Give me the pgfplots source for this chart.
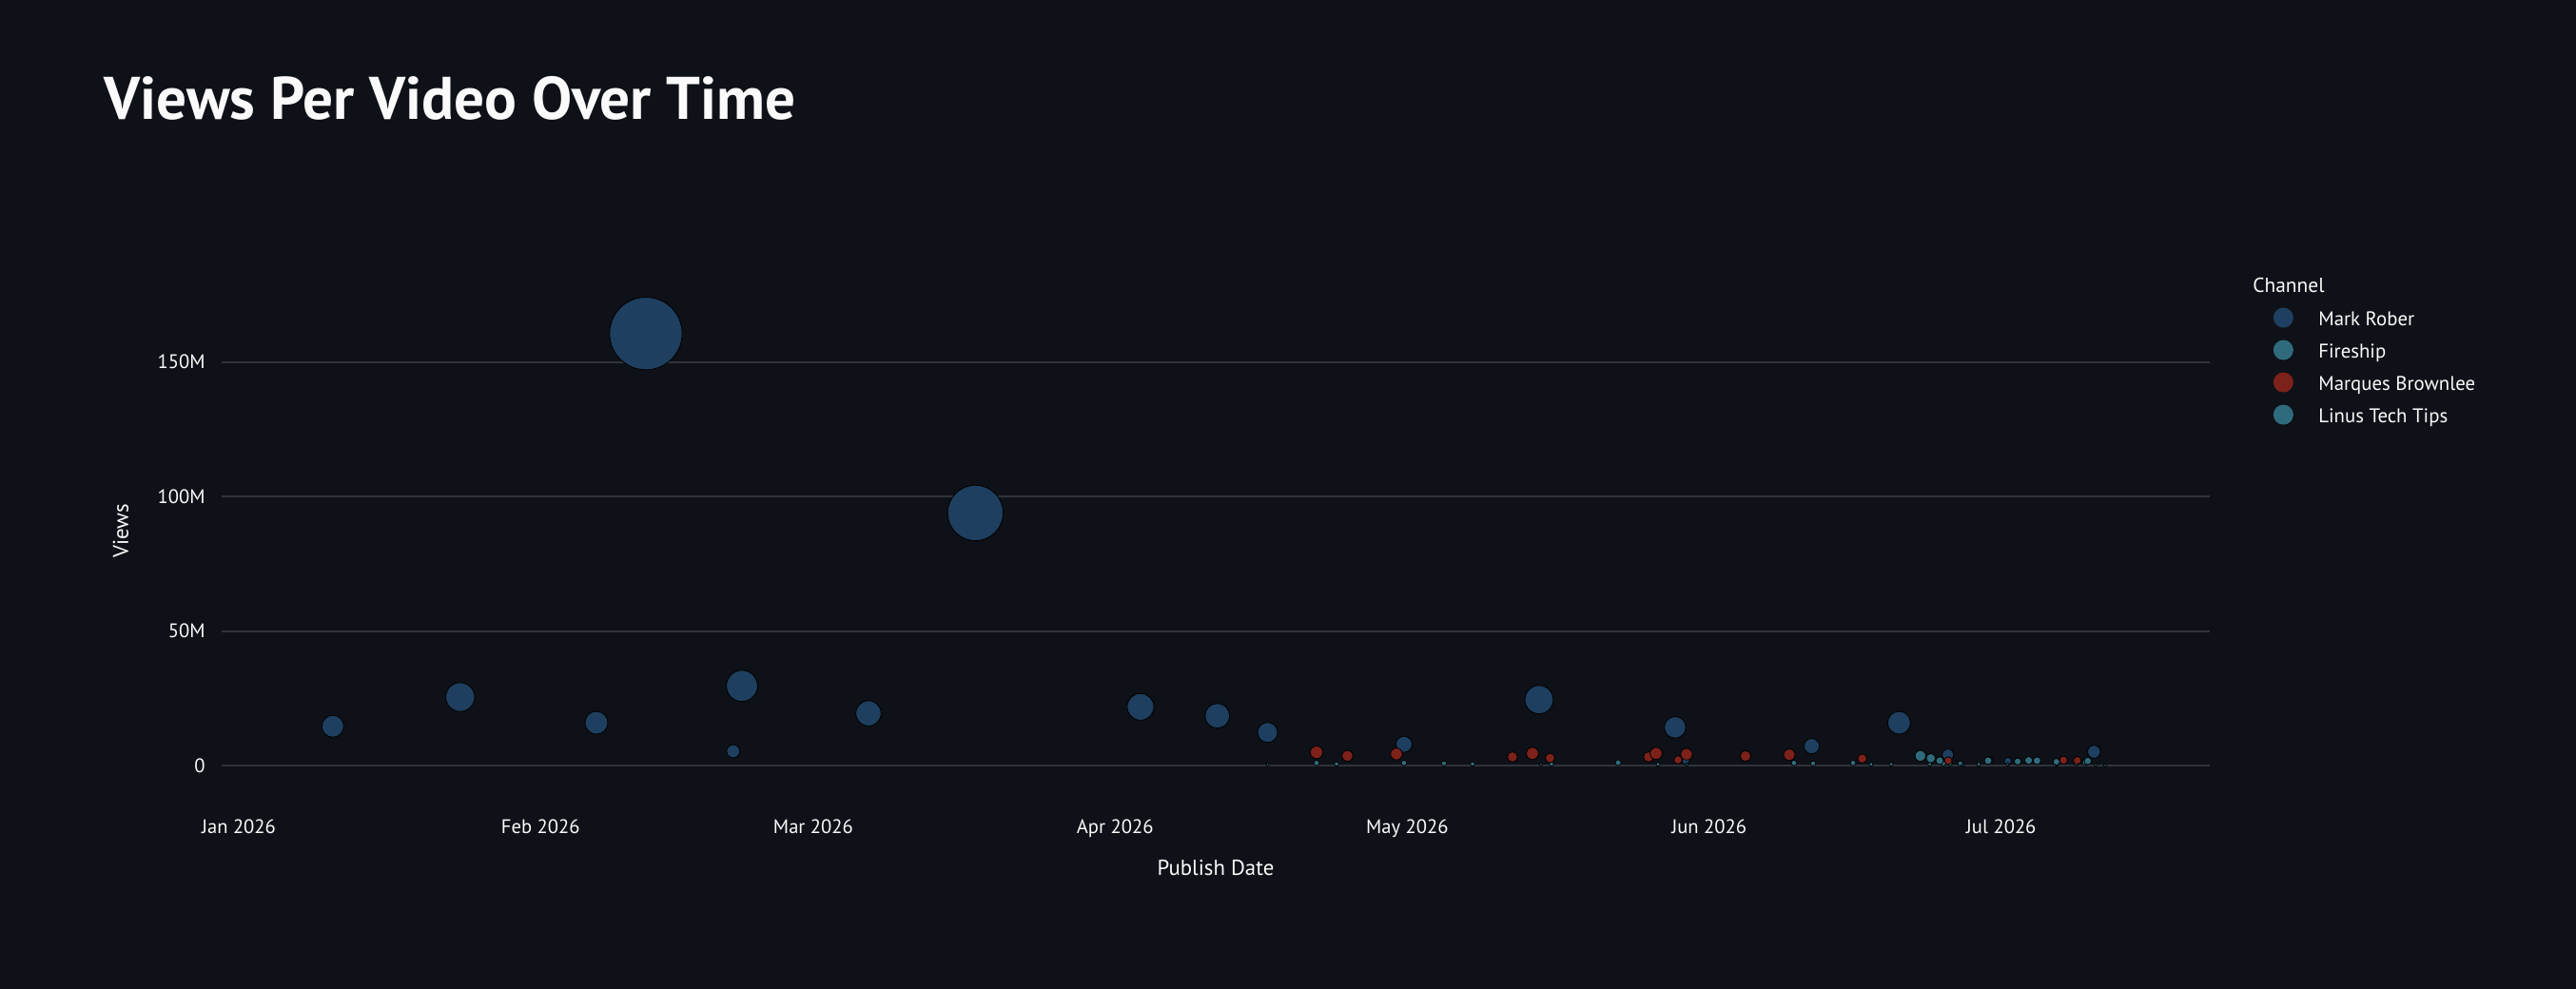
\documentclass[border=0pt]{standalone}
\usepackage{pgfplots}
\usepackage{pgfplotstable}
\pgfplotsset{compat=1.18}
\usepackage{fontspec}
\setmainfont{PT Sans}

\definecolor{bg}{HTML}{0E1117}
\definecolor{fg}{HTML}{FAFAFA}
\definecolor{gridc}{HTML}{31333B}
\definecolor{rober}{HTML}{1E3F5F}
\definecolor{fireship}{HTML}{2F6B7C}
\definecolor{mkbhd}{HTML}{7D211B}
\definecolor{linus}{HTML}{2F6B7C}

\newcommand{\fs}[1]{\fontsize{#1bp}{#1bp}\selectfont}

% day = days since 1 Jan 2026, views in millions
\pgfplotstableread{
day views
9.66 14.6
22.74 25.45
36.73 15.9
41.81 160.6
50.78 5.3
51.68 29.6
64.67 19.4
75.65 93.9
92.61 21.8
100.5 18.5
105.66 12.3
119.67 7.9
133.54 24.5
147.51 14.2
148.6 1.8
161.54 7.2
170.51 15.9
175.53 4.0
181.68 1.7
190.53 5.1
}\roberdata

\pgfplotstableread{
day views
105.66 0.35
110.69 0.95
112.74 0.6
119.67 0.95
123.78 0.8
126.71 0.6
133.73 0.35
134.81 0.6
141.66 1.05
145.76 0.45
148.69 0.35
159.73 0.95
161.69 0.8
165.79 0.95
167.64 0.45
169.7 0.45
173.67 0.45
175.07 0.8
175.72 0.8
176.8 0.8
177.09 0.25
178.69 0.45
181.68 0.35
186.7 0.45
188.71 0.95
190.7 0.35
191.68 0.1
}\fireshipdata

\pgfplotstableread{
day views
110.69 4.9
113.86 3.6
118.89 4.3
130.81 3.2
132.86 4.5
134.67 2.8
144.78 3.2
145.56 4.5
147.81 2.1
148.69 4.2
154.75 3.5
159.24 4.0
166.73 2.6
175.56 1.8
179.76 1.9
182.69 1.5
187.41 2.0
188.81 1.9
}\mkbhddata

\pgfplotstableread{
day views
172.7 3.6
173.77 2.7
174.68 1.8
179.66 1.8
182.69 1.5
183.82 1.9
184.68 1.8
186.67 1.4
189.65 1.2
189.89 1.7
}\linusdata

\pgfplotsset{
  % bubble area proportional to views, with a small minimum radius
  bubble/.style={
    scatter, only marks, mark=*, forget plot,
    scatter src=y,
    scatter/use mapped color={draw=none, fill=#1},
    visualization depends on={max(1.505*sqrt(\thisrow{views}),0.9) \as \rad},
    scatter/@pre marker code/.append style={/tikz/mark size=\rad bp},
  },
  swatch/.style={legend image code/.code={%
    \path[draw=none, fill=none] (-5.25bp,-6bp) rectangle (18.5bp,11bp);
    \fill[#1, draw=none] (0,4.35bp) circle (5.25bp);}},
}

\begin{document}
\begin{tikzpicture}
\fill[bg] (0,0) rectangle (1354bp,520bp);
\begin{axis}[
  at={(116.5bp,94.5bp)}, anchor=south west,
  scale only axis, width=1045bp, height=292.5bp,
  xmin=-1.758, xmax=202.42, ymin=-16.26, ymax=190.55,
  axis line style={draw=none},
  tick style={draw=none},
  ymajorgrids, major grid style={gridc, line width=1bp},
  xtick={0,31,59,90,120,151,181},
  xticklabels={Jan 2026,Feb 2026,Mar 2026,Apr 2026,May 2026,Jun 2026,Jul 2026},
  ytick={0,50,100,150},
  yticklabels={0,50M,100M,150M},
  xticklabel style={anchor=base, yshift=-12.85bp, inner sep=0pt, font=\fs{10.3}, text=fg},
  yticklabel style={anchor=east, xshift=-8.5bp, inner sep=0pt, font=\fs{10.3}, text=fg},
  xlabel={Publish Date}, ylabel={Views},
  xlabel style={at={(axis description cs:0.5,-0.11846)}, anchor=base, inner sep=0pt, font=\fs{11.4}, text=fg},
  ylabel style={at={(axis description cs:-0.04689,0.5)}, anchor=base, inner sep=0pt, font=\fs{11.4}, text=fg},
  clip=false,
  legend style={at={(axis description cs:1.03182,0.90708)}, anchor=north west,
    draw=none, fill=none, inner sep=0pt, text=fg, font=\fs{10.4},
    row sep=0pt, column sep=0pt, cells={anchor=base west},
    nodes={inner sep=0pt, text depth=0pt}},
]
\addplot[bubble=rober] table[x=day, y=views] {\roberdata};
\addplot[bubble=fireship] table[x=day, y=views] {\fireshipdata};
\addplot[bubble=mkbhd] table[x=day, y=views] {\mkbhddata};
\addplot[bubble=linus] table[x=day, y=views] {\linusdata};

\addlegendimage{swatch=rober}
\addlegendentry{Mark Rober}
\addlegendimage{swatch=fireship}
\addlegendentry{Fireship}
\addlegendimage{swatch=mkbhd}
\addlegendentry{Marques Brownlee}
\addlegendimage{swatch=linus}
\addlegendentry{Linus Tech Tips}
\end{axis}
\node[anchor=base west, inner sep=0pt, text=fg, font=\bfseries\fs{31.6}] at (54.35bp,457.15bp) {Views Per Video Over Time};
\node[anchor=base west, inner sep=0pt, text=fg, font=\fs{10.7}] at (1184bp,366.15bp) {Channel};
\pgfresetboundingbox
\useasboundingbox (0,0) rectangle (1354bp,520bp);
\end{tikzpicture}
\end{document}
